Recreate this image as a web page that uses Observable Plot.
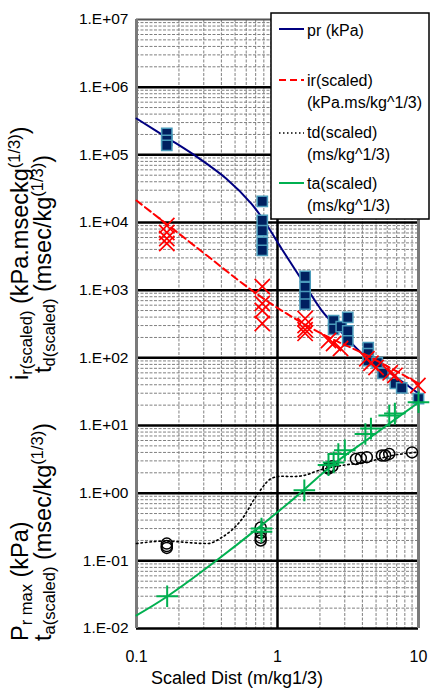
<!DOCTYPE html>
<html>
<head>
<meta charset="utf-8">
<script src="https://cdn.jsdelivr.net/npm/d3@7"></script>
<script src="https://cdn.jsdelivr.net/npm/@observablehq/plot@0.6"></script>
<style>
  html, body { margin: 0; padding: 0; background: #fff; }
  svg { display: block; }
</style>
</head>
<body>
<div id="chart"></div>
<script>
// ---------- data ----------
const xTicks = [0.1, 1, 10];
const yTicks = [1e-2, 1e-1, 1e0, 1e1, 1e2, 1e3, 1e4, 1e5, 1e6, 1e7];

// pr (kPa) fitted curve
const prCurveX = [0.1, 0.164, 0.273, 0.432, 0.652, 0.835, 1.07, 1.48, 2.06, 2.86, 3.98, 6.52, 10];
const prCurveY = [3.44e5, 1.8e5, 9.1e4, 4.47e4, 1.9e4, 9350, 4090, 1440, 500, 237, 116, 56.7, 29.7];
// ir(scaled) fitted curve
const irCurveX = [0.1, 0.273, 0.631, 1.07, 2.17, 3.98, 10];
const irCurveY = [2.11e4, 4130, 1060, 500, 214, 118, 42];
// td(scaled) fitted curve
const tdCurveX = [0.1, 0.156, 0.32, 0.40, 0.553, 0.73, 0.906, 1.07, 1.26, 1.48, 2.06, 2.86, 4.18, 6.52, 10];
const tdCurveY = [0.18, 0.195, 0.18, 0.22, 0.40, 1.0, 1.65, 1.78, 1.76, 1.80, 2.24, 2.57, 2.85, 3.6, 4.05];
// ta(scaled) fitted curve
const taCurveX = [0.1, 0.165, 0.385, 1.259, 2.43, 4.54, 10];
const taCurveY = [0.0156, 0.0297, 0.108, 0.78, 2.57, 6.65, 21.9];

// measured points
const prPtX = [0.164, 0.164, 0.164, 0.78, 0.78, 0.78, 0.78, 0.78, 1.57, 1.57, 1.57, 1.57, 2.5, 2.5, 2.83, 3.15, 3.15, 3.15, 4.4, 4.4, 4.4, 5.1, 5.6, 6.85, 7.6, 10];
const prPtY = [2.07e5, 1.63e5, 1.38e5, 2.05e4, 1.07e4, 7600, 5100, 3860, 1600, 1100, 800, 620, 355, 263, 290, 395, 250, 178, 142, 115, 91, 85, 59, 42, 36, 25];

const irPtX = [0.164, 0.164, 0.164, 0.164, 0.78, 0.78, 0.78, 0.78, 1.57, 1.57, 1.57, 1.57, 2.3, 2.5, 2.8, 4.3, 4.6, 5.0, 6.3, 6.8, 9.9];
const irPtY = [9000, 7100, 5800, 4900, 1130, 636, 500, 322, 380, 300, 260, 230, 180, 163, 137, 97, 83, 72, 60, 55, 39];

const tdPtX = [0.164, 0.164, 0.164, 0.76, 0.76, 0.76, 0.76, 2.3, 2.3, 2.45, 3.6, 3.9, 4.3, 5.5, 5.8, 6.2, 9];
const tdPtY = [0.18, 0.165, 0.155, 0.31, 0.26, 0.22, 0.20, 2.4, 2.3, 2.5, 3.2, 3.3, 3.4, 3.6, 3.6, 3.8, 4.0];

const taPtX = [0.165, 0.77, 0.77, 1.55, 2.3, 2.5, 2.7, 3.0, 4.2, 4.6, 6.2, 6.8, 10];
const taPtY = [0.03, 0.3, 0.27, 1.1, 2.6, 2.85, 3.8, 4.3, 7.5, 9, 14, 15, 22];

// legend / titles
const legendLabels = [["pr (kPa)"], ["ir(scaled)", "(kPa.ms/kg^1/3)"], ["td(scaled)", "(ms/kg^1/3)"], ["ta(scaled)", "(ms/kg^1/3)"]];
const xTitle = "Scaled Dist (m/kg1/3)";

// ---------- helpers ----------
const pts = (xs, ys) => xs.map((x, i) => ({x, y: ys[i]}));
const minorX = [];
for (const d of [0.1, 1]) for (let k = 2; k <= 9; k++) minorX.push(+(d * k).toPrecision(3));
const minorY = [];
for (let e = -2; e < 7; e++) for (let k = 2; k <= 9; k++) minorY.push(k * Math.pow(10, e));
const majorY = yTicks.slice(1, -1);
const fmtY = d => { const e = Math.round(Math.log10(d)); return "1.E" + (e < 0 ? "-" : "+") + String(Math.abs(e)).padStart(2, "0"); };

const FONT = "'Liberation Sans', Arial, sans-serif";
const C = {pr: "#000080", sq: "#002060", sqStroke: "#4a9bbb", ir: "#ff0000", td: "#000000", ta: "#00b050"};

const chart = Plot.plot({
  width: 430, height: 690,
  marginLeft: 136, marginRight: 12, marginTop: 19, marginBottom: 62,
  style: {fontFamily: FONT, fontSize: "16px", color: "#000", background: "#fff"},
  x: {type: "log", domain: [0.1, 10]},
  y: {type: "log", domain: [0.01, 1e7]},
  marks: [
    Plot.ruleX(minorX, {stroke: "#808080", strokeWidth: 1, strokeDasharray: "3,1.5"}),
    Plot.ruleY(minorY, {stroke: "#808080", strokeWidth: 1, strokeDasharray: "3,1.5"}),
    Plot.ruleX([1], {stroke: "#000", strokeWidth: 2.5}),
    Plot.ruleY(majorY, {stroke: "#000", strokeWidth: 2.5}),
    Plot.ruleY([1e7], {stroke: "#555", strokeWidth: 2}),
    Plot.ruleY([1e-2], {stroke: "#000", strokeWidth: 2.5}),
    Plot.ruleX([0.1], {stroke: "#7a7a7a", strokeWidth: 3}),
    Plot.ruleX([10], {stroke: "#7a7a7a", strokeWidth: 3}),
    Plot.axisX({ticks: xTicks, tickFormat: d => String(d), tickSize: 0, tickPadding: 22, label: null, fontSize: 16}),
    Plot.axisY({ticks: yTicks, tickFormat: fmtY, tickSize: 0, tickPadding: 8, label: null, fontSize: 15.5}),
    // pr
    Plot.line(pts(prCurveX, prCurveY), {x: "x", y: "y", stroke: C.pr, strokeWidth: 2, curve: "catmull-rom"}),
    Plot.dot(pts(prPtX, prPtY), {x: "x", y: "y", symbol: "square", r: 5.8, fill: C.sq, stroke: C.sqStroke, strokeWidth: 1.5}),
    // ir
    Plot.line(pts(irCurveX, irCurveY), {x: "x", y: "y", stroke: C.ir, strokeWidth: 2, strokeDasharray: "7,4", curve: "catmull-rom"}),
    Plot.dot(pts(irPtX, irPtY), {x: "x", y: "y", symbol: "times", r: 7, stroke: C.ir, strokeWidth: 1.7}),
    // td
    Plot.line(pts(tdCurveX, tdCurveY), {x: "x", y: "y", stroke: C.td, strokeWidth: 1.6, strokeDasharray: "1.5,3", curve: "monotone-x"}),
    Plot.dot(pts(tdPtX, tdPtY), {x: "x", y: "y", symbol: "circle", r: 5.5, fill: "none", stroke: C.td, strokeWidth: 1.5}),
    // ta
    Plot.line(pts(taCurveX, taCurveY), {x: "x", y: "y", stroke: C.ta, strokeWidth: 2, curve: "catmull-rom"}),
    Plot.dot(pts(taPtX, taPtY), {x: "x", y: "y", symbol: "plus", r: 7, stroke: C.ta, strokeWidth: 2})
  ]
});
document.getElementById("chart").appendChild(chart);

const svg = d3.select(chart);

// ---------- legend ----------
const lg = svg.append("g").attr("font-family", FONT).attr("font-size", 16).attr("text-anchor", "start");
lg.append("rect").attr("x", 271).attr("y", 13).attr("width", 158).attr("height", 206)
  .attr("fill", "#fff").attr("stroke", "#000").attr("stroke-width", 1.5);
const lgRows = [
  {y: 29, text: 36, stroke: C.pr, dash: null, w: 2},
  {y: 80, text: 85.5, stroke: C.ir, dash: "7,4", w: 2},
  {y: 133, text: 137.5, stroke: C.td, dash: "1.5,2.5", w: 1.6},
  {y: 183, text: 188.5, stroke: C.ta, dash: null, w: 2}
];
lgRows.forEach((r, i) => {
  const ln = lg.append("line").attr("x1", 279).attr("x2", 304).attr("y1", r.y).attr("y2", r.y)
    .attr("stroke", r.stroke).attr("stroke-width", r.w);
  if (r.dash) ln.attr("stroke-dasharray", r.dash);
  legendLabels[i].forEach((t, j) => {
    lg.append("text").attr("x", 307).attr("y", r.text + j * 22).text(t);
  });
});

// ---------- x title ----------
svg.append("text").attr("x", 237).attr("y", 684).attr("text-anchor", "middle")
  .attr("font-family", FONT).attr("font-size", 18).text(xTitle);

// ---------- y title (rotated, with sub/superscripts) ----------
function rich(x, y, parts) {
  const t = svg.append("text").attr("transform", `translate(${x},${y}) rotate(-90)`)
    .attr("text-anchor", "start").attr("font-family", FONT).attr("font-size", 23.5);
  parts.forEach(([s, kind]) => {
    const sp = t.append("tspan").text(s);
    if (kind === "sub") sp.attr("font-size", 16.5).attr("baseline-shift", "-22%");
    if (kind === "sup") sp.attr("font-size", 16.5).attr("baseline-shift", "50%");
  });
}
rich(28, 641, [["P"], ["r max", "sub"], [" (kPa)"]]);
rich(28, 380, [["i"], ["r(scaled)", "sub"], [" (kPa.mseckg"], ["(1/3)", "sup"], [")"]]);
rich(51, 641, [["t"], ["a(scaled)", "sub"], [" (msec/kg"], ["(1/3)", "sup"], [")"]]);
rich(51, 373, [["t"], ["d(scaled)", "sub"], [" (msec/kg"], ["(1/3)", "sup"], [")"]]);
</script>
</body>
</html>
